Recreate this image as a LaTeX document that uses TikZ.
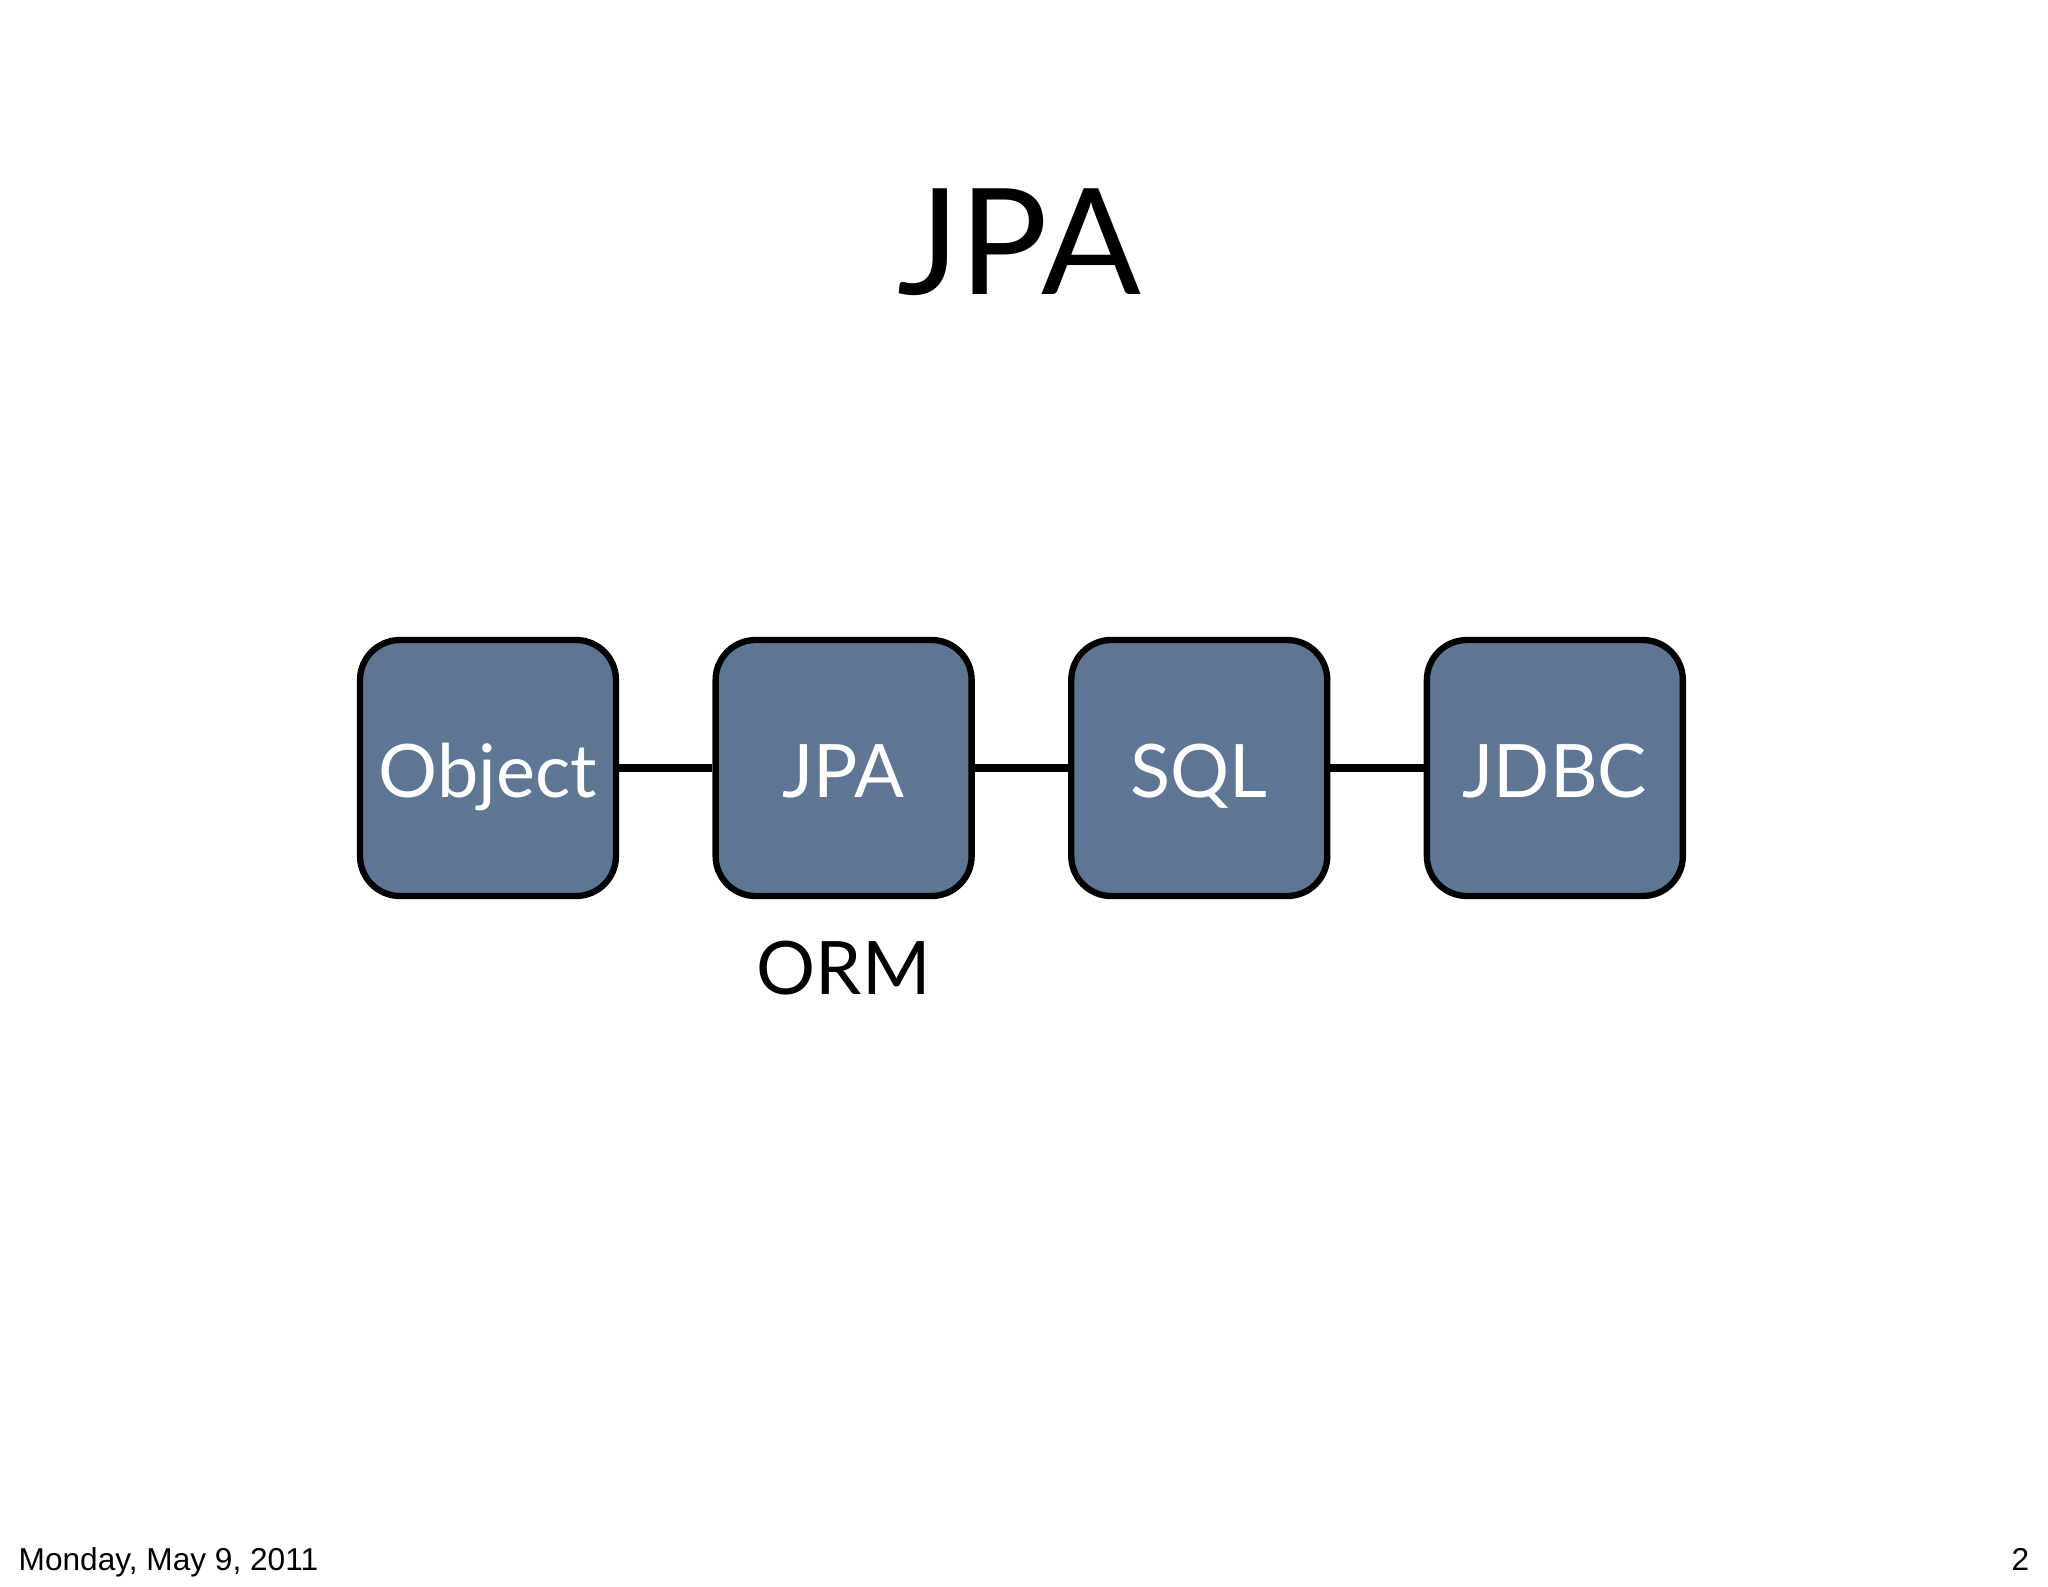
\documentclass[tikz,border=0pt]{standalone}
\usepackage{fontspec}
\setmainfont{Lato}
\newfontfamily\footfont{Liberation Sans}
\usepackage{tikz}
\usetikzlibrary{positioning}
\definecolor{slateblue}{HTML}{5E7693}
\tikzset{
  layer_box/.style={rectangle, draw=black, fill=slateblue, line width=1.8pt, rounded corners=4mm, minimum size=2.56cm, inner sep=0pt, text height=0.76cm, text depth=0.18cm, text=white, font=\fontsize{21}{25}\selectfont},
  connect/.style={-, line width=2.2pt, black},
  title_style/.style={font=\fontsize{42}{48}\selectfont, anchor=base},
  label_style/.style={font=\fontsize{21}{25}\selectfont, anchor=base},
  foot_style/.style={font=\footfont\fontsize{9}{11}\selectfont, anchor=base west}
}

\begin{document}
\begin{tikzpicture}[node distance=0.933cm]
    \useasboundingbox (0,0) rectangle (20.48,-15.87);
    \fill[white] (0,0) rectangle (20.48,-15.87);

    % 1. Title
    \node[title_style] (title) at (10.19,-2.94) {JPA};

    % 2. The chain of boxes
    \node[layer_box] (object) at (4.88,-7.68) {Object};
    \node[layer_box, right=of object] (jpa) {JPA};
    \node[layer_box, right=of jpa] (sql) {SQL};
    \node[layer_box, right=of sql] (jdbc) {JDBC};

    % 3. Links
    \draw[connect] (object) -- (jpa);
    \draw[connect] (jpa) -- (sql);
    \draw[connect] (sql) -- (jdbc);

    % 4. Label under JPA
    \node[label_style] (orm) at (jpa.center |- 0,-9.94) {ORM};

    % 5. Footer
    \node[foot_style, inner sep=0pt] (date) at (0.18,-15.70) {Monday, May 9, 2011};
    \node[foot_style, inner sep=0pt, anchor=base east] (page) at (20.30,-15.70) {2};
\end{tikzpicture}
\end{document}
